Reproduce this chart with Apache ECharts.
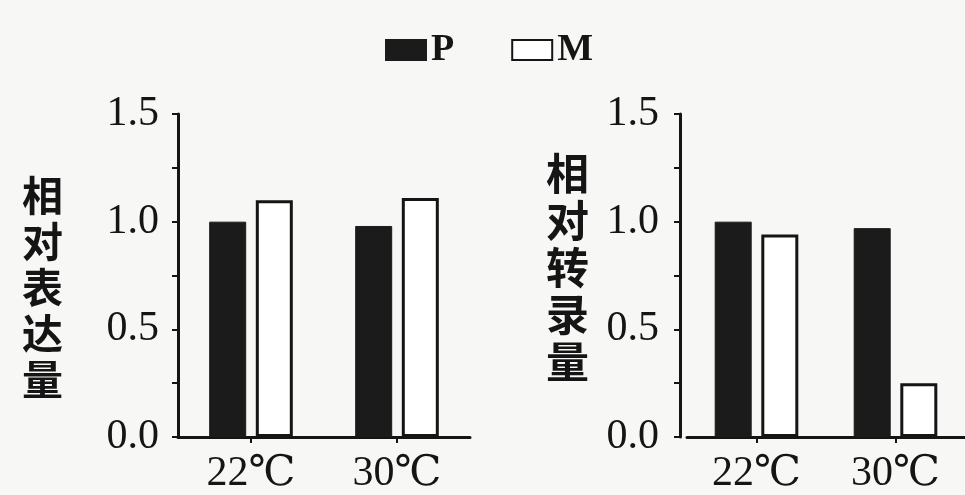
<!DOCTYPE html>
<html>
<head>
<meta charset="utf-8">
<script src="https://cdn.jsdelivr.net/npm/echarts@6/dist/echarts.min.js"></script>
<style>
html,body{margin:0;padding:0;background:#f7f7f5;}
#c{width:965px;height:495px;}
</style>
</head>
<body>
<div id="c"></div>
<script>
const categories = ['22℃', '30℃'];
const seriesNames = ['P', 'M'];
const leftP = [1.0, 0.98];
const leftM = [1.1, 1.11];
const rightP = [1.0, 0.97];
const rightM = [0.94, 0.25];
const yMin = 0, yMax = 1.5, yStep = 0.25;
const leftTitle = '相对表达量';
const rightTitle = '相对转录量';

const serif = '"Liberation Serif", "DejaVu Serif", serif';
const cjk = '"Noto Sans CJK SC", sans-serif';
const ink = '#151515';

function yAxis(gridIndex, margin, offset) {
  return {
    type: 'value', gridIndex, min: yMin, max: yMax, interval: yStep, offset,
    axisLine: { show: true, lineStyle: { color: ink, width: 3 } },
    axisTick: { show: true, inside: false, length: 6, lineStyle: { color: ink, width: 2 } },
    splitLine: { show: false },
    axisLabel: {
      margin, fontFamily: serif, fontSize: 42, color: ink,
      formatter: v => (Math.abs(v / 0.5 - Math.round(v / 0.5)) < 1e-6 ? v.toFixed(1) : '')
    }
  };
}
function xAxis(gridIndex) {
  return {
    type: 'category', gridIndex, data: categories,
    axisLine: { show: true, lineStyle: { color: ink, width: 3 } },
    axisTick: { show: true, alignWithLabel: true, length: 6, lineStyle: { color: ink, width: 2 } },
    axisLabel: { margin: 16, fontFamily: serif, fontSize: 42, color: ink }
  };
}
function bars(name, data, idx, filled) {
  return {
    name, type: 'bar', xAxisIndex: idx, yAxisIndex: idx, data,
    barWidth: 37, barGap: '26%',
    itemStyle: filled
      ? { color: '#1b1b1b', borderColor: '#1b1b1b', borderWidth: 1 }
      : { color: '#ffffff', borderColor: ink, borderWidth: 3 },
    emphasis: { disabled: true }
  };
}
function vTitle(text, x, y, fs, lh) {
  return {
    type: 'text', left: x, top: y,
    style: {
      text: text.split('').join('\n'), fill: ink,
      fontFamily: cjk, fontSize: fs, fontWeight: 'bold', lineHeight: lh, align: 'center'
    }
  };
}

const chart = echarts.init(document.getElementById('c'));
chart.setOption({
  backgroundColor: '#f7f7f5',
  animation: false,
  legend: {
    data: seriesNames, left: 380, top: 26, icon: 'rect', itemWidth: 40, itemHeight: 20, itemGap: 57,
    textStyle: { fontFamily: serif, fontSize: 38, fontWeight: 'bold', color: ink }
  },
  grid: [
    { left: 178, top: 114, width: 292, height: 324 },
    { left: 687, top: 114, width: 280, height: 325 }
  ],
  xAxis: [xAxis(0), xAxis(1)],
  yAxis: [yAxis(0, 19, 0), yAxis(1, 21, 7)],
  graphic: [
    vTitle(leftTitle, 22, 172, 41, 46),
    vTitle(rightTitle, 546, 150, 43, 47)
  ],
  series: [
    bars(seriesNames[0], leftP, 0, true),
    bars(seriesNames[1], leftM, 0, false),
    bars(seriesNames[0], rightP, 1, true),
    bars(seriesNames[1], rightM, 1, false)
  ]
});
</script>
</body>
</html>
